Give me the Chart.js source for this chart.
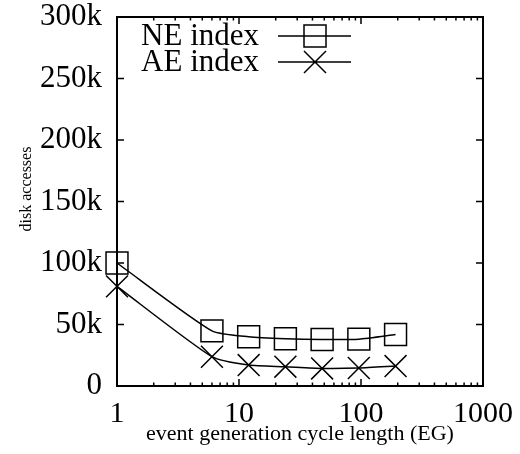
<!DOCTYPE html>
<html>
<head>
<meta charset="utf-8">
<script src="https://cdn.jsdelivr.net/npm/chart.js@4/dist/chart.umd.min.js"></script>
<style>
  body { margin: 0; background: #fff; }
  #wrap { width: 520px; height: 454px; position: relative; }
</style>
</head>
<body>
<div id="wrap"><canvas id="eg"></canvas></div>
<script>
// event generation cycle length (log axis)
const cycleLengths = [1, 6, 12, 24, 48, 96, 192];
const neIndex = [100000, 44800, 40000, 38400, 37800, 38100, 41900];
const aeIndex = [81000, 23800, 17000, 15700, 14300, 14600, 16200];
const xTickValues = [1, 10, 100, 1000];
const yTickValues = [0, 50000, 100000, 150000, 200000, 250000, 300000];

const serif = "'Liberation Serif', 'Times New Roman', serif";

const toPoints = (vals) => cycleLengths.map((x, i) => ({ x: x, y: vals[i] }));

// box border with inward, mirrored ticks like gnuplot
const frame = {
    id: "frame",
    afterDraw(chart) {
        const { ctx, chartArea: a, scales } = chart;
        const xs = scales.x, ys = scales.y;
        ctx.save();
        ctx.strokeStyle = "#000";
        ctx.lineWidth = 1.5;
        ctx.beginPath();
        for (let d = 1; d < 1000; d *= 10) {
            for (let m = 1; m <= 9; m++) {
                const px = xs.getPixelForValue(d * m);
                const len = m === 1 ? 7 : 3.5;
                ctx.moveTo(px, a.bottom); ctx.lineTo(px, a.bottom - len);
                ctx.moveTo(px, a.top); ctx.lineTo(px, a.top + len);
            }
        }
        yTickValues.forEach((v) => {
            const py = ys.getPixelForValue(v);
            ctx.moveTo(a.left, py); ctx.lineTo(a.left + 7, py);
            ctx.moveTo(a.right, py); ctx.lineTo(a.right - 7, py);
        });
        ctx.stroke();
        ctx.lineWidth = 2;
        ctx.strokeRect(a.left, a.top, a.right - a.left, a.bottom - a.top);

        // y axis title, rotated
        ctx.fillStyle = "#000";
        ctx.font = "16px " + serif;
        ctx.textAlign = "center";
        ctx.textBaseline = "middle";
        ctx.translate(27, 189);
        ctx.rotate(-Math.PI / 2);
        ctx.fillText("disk accesses", 0, 0);
        ctx.restore();
    },
};

// key in the top left corner, text right-aligned then sample
const key = {
    id: "key",
    afterDraw(chart) {
        const ctx = chart.ctx;
        const rows = [
            { label: "NE index", y: 37, shape: "rect" },
            { label: "AE index", y: 63, shape: "cross" },
        ];
        ctx.save();
        ctx.fillStyle = "#000";
        ctx.strokeStyle = "#000";
        ctx.font = "31px " + serif;
        ctx.textAlign = "right";
        ctx.textBaseline = "middle";
        rows.forEach((r) => {
            ctx.fillText(r.label, 259, r.y);
            ctx.lineWidth = 1.5;
            ctx.beginPath();
            ctx.moveTo(278, r.y - 1); ctx.lineTo(351, r.y - 1);
            const cx = 315, cy = r.y - 1, h = 11;
            if (r.shape === "rect") {
                ctx.rect(cx - h, cy - h, 2 * h, 2 * h);
            } else {
                ctx.moveTo(cx - h, cy - h); ctx.lineTo(cx + h, cy + h);
                ctx.moveTo(cx - h, cy + h); ctx.lineTo(cx + h, cy - h);
            }
            ctx.stroke();
        });
        ctx.restore();
    },
};

const ctx = document.getElementById("eg").getContext("2d");

new Chart(ctx, {
    type: "line",
    data: {
        datasets: [
            {
                label: "NE index",
                data: toPoints(neIndex),
                borderColor: "#000",
                borderWidth: 1.5,
                pointStyle: "rect",
                pointRadius: 15.5,
                pointBorderWidth: 1.5,
                pointBackgroundColor: "rgba(0,0,0,0)",
                pointBorderColor: "#000",
                tension: 0.2,
                fill: false,
                clip: false,
            },
            {
                label: "AE index",
                data: toPoints(aeIndex),
                borderColor: "#000",
                borderWidth: 1.5,
                pointStyle: "crossRot",
                pointRadius: 15.5,
                pointBorderWidth: 1.5,
                pointBorderColor: "#000",
                tension: 0.2,
                fill: false,
                clip: false,
            },
        ],
    },
    options: {
        responsive: true,
        maintainAspectRatio: false,
        animation: false,
        layout: { padding: { top: 16, right: 37, left: 0, bottom: 0 } },
        plugins: {
            legend: { display: false },
            tooltip: { enabled: false },
        },
        scales: {
            x: {
                type: "logarithmic",
                min: 1,
                max: 1000,
                grid: { display: false, drawTicks: false },
                border: { display: false },
                afterBuildTicks(scale) {
                    scale.ticks = xTickValues.map((v) => ({ value: v }));
                },
                afterFit(scale) {
                    scale.height = 68;
                    scale.paddingLeft = 0;
                    scale.paddingRight = 0;
                },
                ticks: {
                    color: "#000",
                    padding: 10,
                    maxRotation: 0,
                    autoSkip: false,
                    font: { family: serif, size: 30 },
                    callback: (v) => String(v),
                },
                title: {
                    display: true,
                    text: "event generation cycle length (EG)",
                    color: "#000",
                    font: { family: serif, size: 22 },
                    padding: { top: 0, bottom: 7 },
                },
            },
            y: {
                min: 0,
                max: 300000,
                grid: { display: false, drawTicks: false },
                border: { display: false },
                afterFit(scale) {
                    scale.width = 117;
                    scale.paddingTop = 0;
                    scale.paddingBottom = 0;
                },
                ticks: {
                    color: "#000",
                    padding: 15,
                    stepSize: 50000,
                    font: { family: serif, size: 31 },
                    callback: (v) => (v === 0 ? "0" : v / 1000 + "k"),
                },
            },
        },
    },
    plugins: [frame, key],
});
</script>
</body>
</html>
